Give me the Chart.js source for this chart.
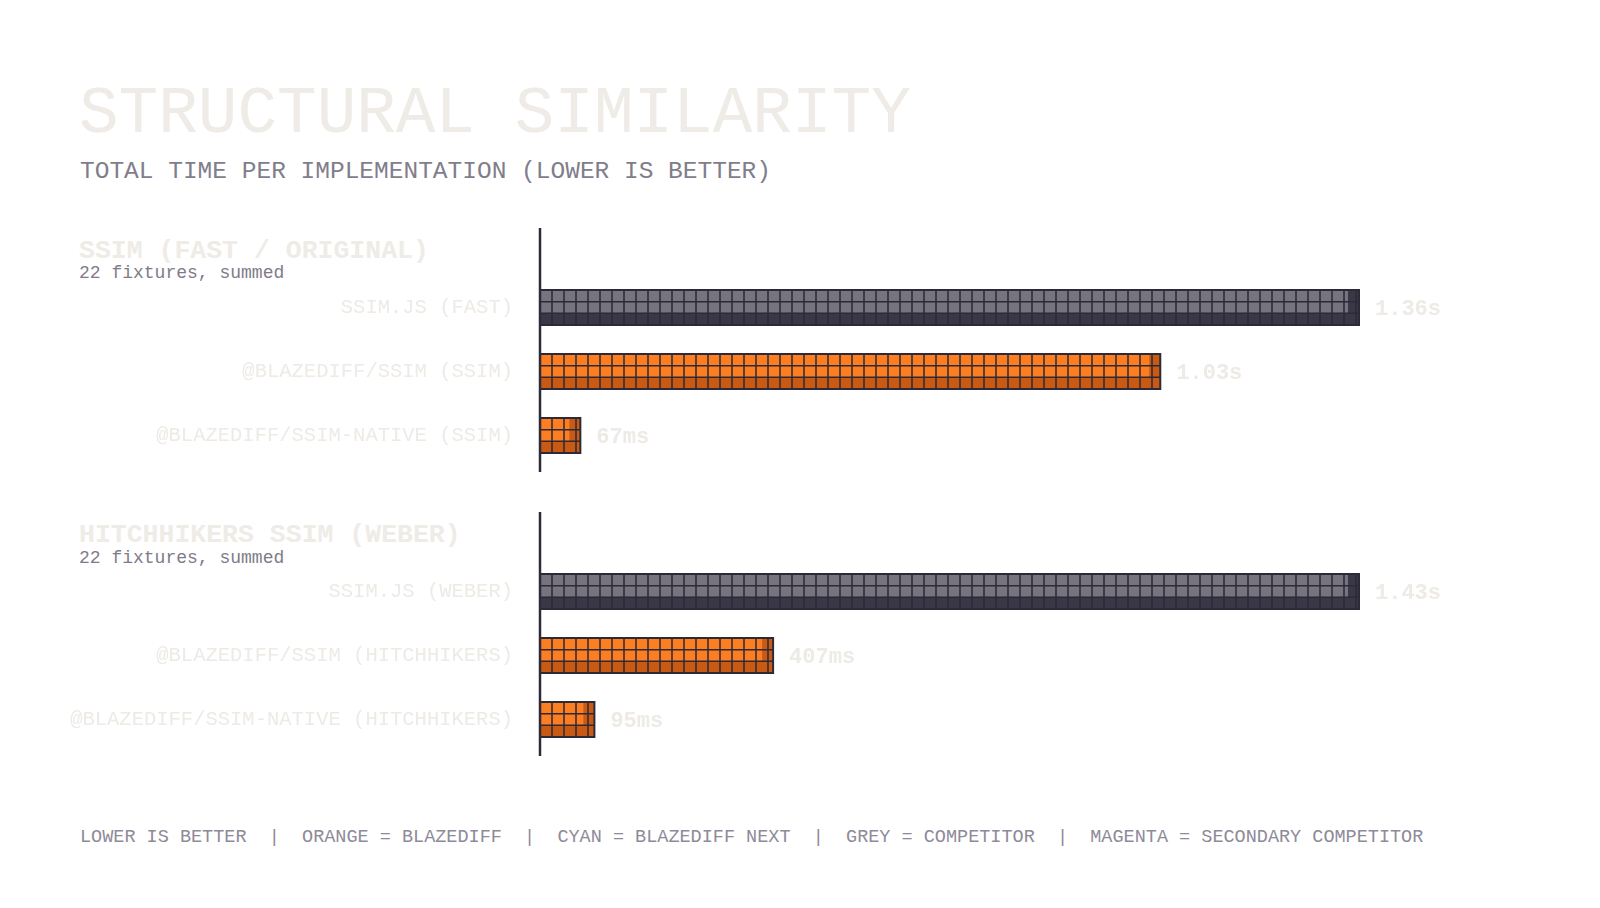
<!DOCTYPE html>
<html>
<head>
<meta charset="utf-8">
<title>Structural Similarity</title>
<script src="https://cdn.jsdelivr.net/npm/chart.js@4.4.1/dist/chart.umd.min.js"></script>
<style>
  html, body { margin: 0; padding: 0; background: #ffffff; }
  body { width: 1600px; height: 908px; position: relative; overflow: hidden; font-family: "Liberation Mono", "DejaVu Sans Mono", monospace; }
  .txt { position: absolute; white-space: pre; line-height: 1; }
  #title { left: 79px; top: 82px; font-size: 66px; color: #efebe6; }
  #subtitle { left: 80px; top: 160px; font-size: 24.5px; color: #817d8b; }
  .gtitle { left: 79px; font-size: 26.5px; font-weight: bold; color: #efebe6; }
  .gsub { left: 79px; font-size: 18px; color: #7f7b89; }
  #footer { left: 80px; top: 829px; font-size: 18.5px; color: #8e8a98; }
  .grp { position: absolute; left: 0; width: 1600px; height: 250px; }
</style>
</head>
<body>
<div id="title" class="txt">STRUCTURAL SIMILARITY</div>
<div id="subtitle" class="txt">TOTAL TIME PER IMPLEMENTATION (LOWER IS BETTER)</div>

<div class="txt gtitle" style="top:237.5px">SSIM (FAST / ORIGINAL)</div>
<div class="txt gsub" style="top:264px">22 fixtures, summed</div>
<div class="grp" style="top:228px"><canvas id="chartFast"></canvas></div>

<div class="txt gtitle" style="top:522px">HITCHHIKERS SSIM (WEBER)</div>
<div class="txt gsub" style="top:549px">22 fixtures, summed</div>
<div class="grp" style="top:512px"><canvas id="chartWeber"></canvas></div>

<div id="footer" class="txt">LOWER IS BETTER  |  ORANGE = BLAZEDIFF  |  CYAN = BLAZEDIFF NEXT  |  GREY = COMPETITOR  |  MAGENTA = SECONDARY COMPETITOR</div>

<script>
// total time in ms, 22 fixtures summed
const fastLabels = ['SSIM.JS (FAST)', '@BLAZEDIFF/SSIM (SSIM)', '@BLAZEDIFF/SSIM-NATIVE (SSIM)'];
const fastTimes = [1360, 1030, 67];

const weberLabels = ['SSIM.JS (WEBER)', '@BLAZEDIFF/SSIM (HITCHHIKERS)', '@BLAZEDIFF/SSIM-NATIVE (HITCHHIKERS)'];
const weberTimes = [1430, 407, 95];

const ORANGE = { light: '#fd7d21', dark: '#c95a14' };
const GREY = { light: '#77737f', dark: '#3a3847' };
const LINE = '#2b2a38';
const FAINT = '#eeeae5';

function colorFor(label) {
    return label.startsWith('@BLAZEDIFF') ? ORANGE : GREY;
}

function fmtTime(ms) {
    return ms >= 1000 ? (ms / 1000).toFixed(2) + 's' : ms + 'ms';
}

// draws the pixel-block look on top of each bar, the value label and the axis line
const blockBars = {
    id: 'blockBars',
    afterDatasetsDraw(chart) {
        const ctx = chart.ctx;
        const labels = chart.data.labels;
        const values = chart.data.datasets[0].data;
        const meta = chart.getDatasetMeta(0);

        meta.data.forEach((bar, i) => {
            const p = bar.getProps(['x', 'y', 'base', 'height'], true);
            const left = Math.min(p.base, p.x);
            const right = Math.max(p.base, p.x);
            const w = right - left;
            const h = p.height;
            const top = p.y - h / 2;
            const c = colorFor(labels[i]);

            ctx.save();
            ctx.fillStyle = c.light;
            ctx.fillRect(left, top, w, h);
            ctx.fillStyle = c.dark;
            ctx.fillRect(left, top + h * 2 / 3, w, h / 3);
            const strip = Math.min(11, w);
            ctx.fillRect(right - strip, top, strip, h);

            ctx.strokeStyle = LINE;
            ctx.lineWidth = 1.5;
            ctx.beginPath();
            for (let gx = left + 12; gx < right - 1; gx += 12) {
                ctx.moveTo(gx, top);
                ctx.lineTo(gx, top + h);
            }
            ctx.moveTo(left, top + h / 3);
            ctx.lineTo(right, top + h / 3);
            ctx.moveTo(left, top + h * 2 / 3);
            ctx.lineTo(right, top + h * 2 / 3);
            ctx.stroke();

            ctx.lineWidth = 2;
            ctx.strokeRect(left, top, w, h);

            ctx.fillStyle = FAINT;
            ctx.font = 'bold 22px "Liberation Mono", "DejaVu Sans Mono", monospace';
            ctx.textAlign = 'left';
            ctx.textBaseline = 'alphabetic';
            ctx.fillText(fmtTime(values[i]), right + 16, p.y + 7.5);
            ctx.restore();
        });

        const area = chart.chartArea;
        ctx.save();
        ctx.strokeStyle = '#2d2b39';
        ctx.lineWidth = 2.5;
        ctx.beginPath();
        ctx.moveTo(area.left, 0);
        ctx.lineTo(area.left, area.bottom + 4.5);
        ctx.stroke();
        ctx.restore();
    }
};

function makeGroup(canvasId, labels, times) {
    const ctx = document.getElementById(canvasId).getContext('2d');
    return new Chart(ctx, {
        type: 'bar',
        data: {
            labels: labels,
            datasets: [{
                data: times,
                backgroundColor: labels.map(l => colorFor(l).light),
                borderWidth: 0,
                barThickness: 35
            }]
        },
        options: {
            indexAxis: 'y',
            responsive: true,
            maintainAspectRatio: false,
            devicePixelRatio: 1,
            animation: false,
            layout: { padding: { top: 47.5, bottom: 10.5, left: 0, right: 241 } },
            plugins: {
                legend: { display: false },
                tooltip: { enabled: false }
            },
            scales: {
                x: {
                    display: false,
                    min: 0,
                    max: Math.max(...times)
                },
                y: {
                    offset: true,
                    border: { display: false },
                    grid: { display: false, drawTicks: false },
                    ticks: {
                        autoSkip: false,
                        padding: 27,
                        color: FAINT,
                        font: { family: '"Liberation Mono", "DejaVu Sans Mono", monospace', size: 20.5 }
                    },
                    afterFit: function(scale) {
                        scale.width = 540;
                        scale.paddingTop = 0;
                        scale.paddingBottom = 0;
                    }
                }
            }
        },
        plugins: [blockBars]
    });
}

makeGroup('chartFast', fastLabels, fastTimes);
makeGroup('chartWeber', weberLabels, weberTimes);
</script>
</body>
</html>
